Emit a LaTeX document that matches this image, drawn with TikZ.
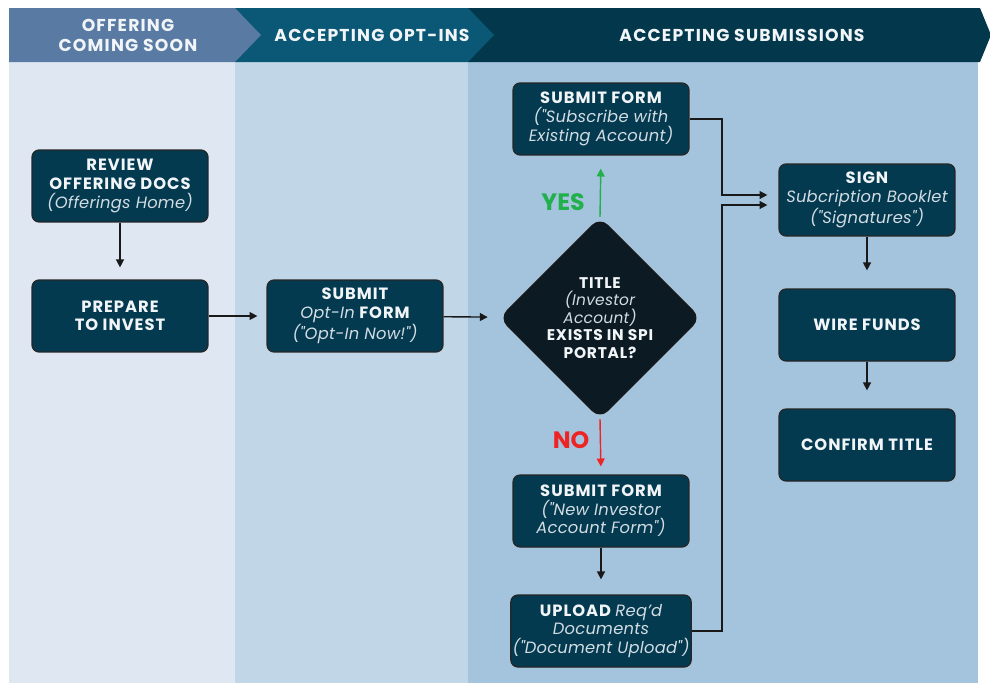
\documentclass[tikz,border=0pt]{standalone}
\usepackage{fontspec}
\setmainfont{Poppins}
\usepackage{xcolor}
\usepackage{tikz}
\usetikzlibrary{arrows.meta, positioning, shapes.geometric, calc}

\definecolor{hdrone}{HTML}{587AA3}
\definecolor{hdrtwo}{HTML}{0B5876}
\definecolor{hdrthree}{HTML}{02374C}
\definecolor{laneone}{HTML}{DFE8F2}
\definecolor{lanetwo}{HTML}{C1D7E8}
\definecolor{lanethree}{HTML}{A4C3DC}
\definecolor{boxfill}{HTML}{033A50}
\definecolor{diafill}{HTML}{0C1B23}
\definecolor{boxtext}{HTML}{F2F5F8}
\definecolor{notegray}{HTML}{D3DCE3}
\definecolor{yesgreen}{HTML}{21B04B}
\definecolor{nored}{HTML}{EE2424}

\newcommand{\itnote}[1]{{\mdseries\itshape\addfontfeature{LetterSpace=1.5}\color{notegray}#1}}
\newcommand{\qq}{\textquotedbl}
\newcommand{\boxfont}{\fontsize{9.3}{10.6}\selectfont\bfseries\addfontfeature{LetterSpace=6}}
\newcommand{\hdrfont}{\fontsize{9.8}{11.4}\selectfont\bfseries\addfontfeature{LetterSpace=7}}

\tikzset{
  stepbox/.style={draw=black!85, line width=0.7pt, fill=boxfill,
    rounded corners=4pt, minimum width=3.52cm, minimum height=1.44cm,
    align=center, text=boxtext, font=\boxfont, inner sep=1pt},
  decision/.style={diamond, aspect=1, draw=black!90, line width=0.7pt,
    fill=diafill, rounded corners=6pt, minimum size=4.02cm, inner sep=0pt},
  decisiontext/.style={align=center, text=boxtext, inner sep=0pt,
    font=\fontsize{8.8}{10}\selectfont\bfseries\addfontfeature{LetterSpace=5}},
  hdrtext/.style={align=center, text=boxtext, font=\hdrfont},
  flow/.style={-{Triangle[length=4.5pt,width=4.5pt]}, line width=0.8pt,
    draw=black!90, shorten >=0.24cm},
  answer/.style={font=\fontsize{13.5}{14}\selectfont\bfseries}
}

\begin{document}
\begin{tikzpicture}[x=0.02cm, y=-0.02cm]
        \useasboundingbox (0,0) rectangle (990,683);
        % Lanes
        \fill[laneone]   (9,62)   rectangle (235,683);
        \fill[lanetwo]   (235,62) rectangle (468,683);
        \fill[lanethree] (468,62) rectangle (978,683);
        % Header chevrons (back to front)
        \fill[hdrthree] (468,8) -- (980,8) -- (991,35) -- (980,62) -- (468,62) -- cycle;
        \fill[hdrtwo]   (235,8) -- (468,8) -- (494,35) -- (468,62) -- (235,62) -- cycle;
        \fill[hdrone]   (9,8)   -- (235,8) -- (261,35) -- (235,62) -- (9,62)   -- cycle;
        \node[hdrtext] (hdrsoon) at (128,35) {OFFERING\\COMING SOON};
        \node[hdrtext] (hdroptin) at (372,35) {ACCEPTING OPT-INS};
        \node[hdrtext] (hdrsubmit) at (742,35) {ACCEPTING SUBMISSIONS};

        % Lane 1: coming soon
        \node[stepbox] (review) at (120,186)
          {REVIEW\\OFFERING DOCS\\\itnote{(Offerings Home)}};
        \node[stepbox] (prepare) at (120,316) {PREPARE\\TO INVEST};
        % Lane 2: opt-ins
        \node[stepbox] (optin) at (355,316)
          {SUBMIT\\\itnote{Opt-In} FORM\\\itnote{(\qq Opt-In Now!\qq)}};
        % Lane 3: decision
        \node[decision] (check) at (600,318) {};
        \node[decisiontext] (checktxt) at (check.center)
          {TITLE\\\itnote{(Investor}\\\itnote{Account)}\\EXISTS IN SPI\\PORTAL?};
        % Lane 3: yes / no branches
        \node[stepbox] (subtop) at (601,119)
          {SUBMIT FORM\\\itnote{(\qq Subscribe with}\\\itnote{Existing Account)}};
        \node[stepbox] (subnew) at (601,511)
          {SUBMIT FORM\\\itnote{(\qq New Investor}\\\itnote{Account Form\qq)}};
        \node[stepbox] (upload) at (601,631)
          {UPLOAD \itnote{Req'd}\\\itnote{Documents}\\\itnote{(\qq Document Upload\qq)}};
        % Lane 3: closing steps
        \node[stepbox] (sign) at (867,200)
          {SIGN\\\itnote{Subcription Booklet}\\\itnote{(\qq Signatures\qq)}};
        \node[stepbox] (wire) at (867,325) {WIRE FUNDS};
        \node[stepbox] (confirm) at (867,445) {CONFIRM TITLE};
        \node[answer, text=yesgreen] (yes) at (563,202) {YES};
        \node[answer, text=nored] (no) at (571,440) {NO};
        \coordinate (joinx) at (722,0);

        % Arrows
        \draw[flow] (review) -- (prepare);
        \draw[flow, shorten >=0.18cm] (prepare) -- (optin);
        \draw[flow] (optin) -- (check);
        \draw[flow, draw=yesgreen, shorten >=0.26cm] (check.north) -- (subtop.south);
        \draw[flow, draw=nored, shorten >=0.16cm] (check.south) -- (subnew.north);
        \draw[flow, shorten >=0.3cm] (subnew) -- (upload);
        \draw[flow, shorten >=0.22cm] (subtop.east) -- (subtop.east -| joinx)
          |- ([yshift=0.1cm]sign.west);
        \draw[flow, shorten >=0.22cm] (upload.east) -- (upload.east -| joinx)
          |- ([yshift=-0.1cm]sign.west);
        \draw[flow, shorten >=0.36cm] (sign) -- (wire);
        \draw[flow, shorten >=0.36cm] (wire) -- (confirm);
      \end{tikzpicture}
\end{document}
